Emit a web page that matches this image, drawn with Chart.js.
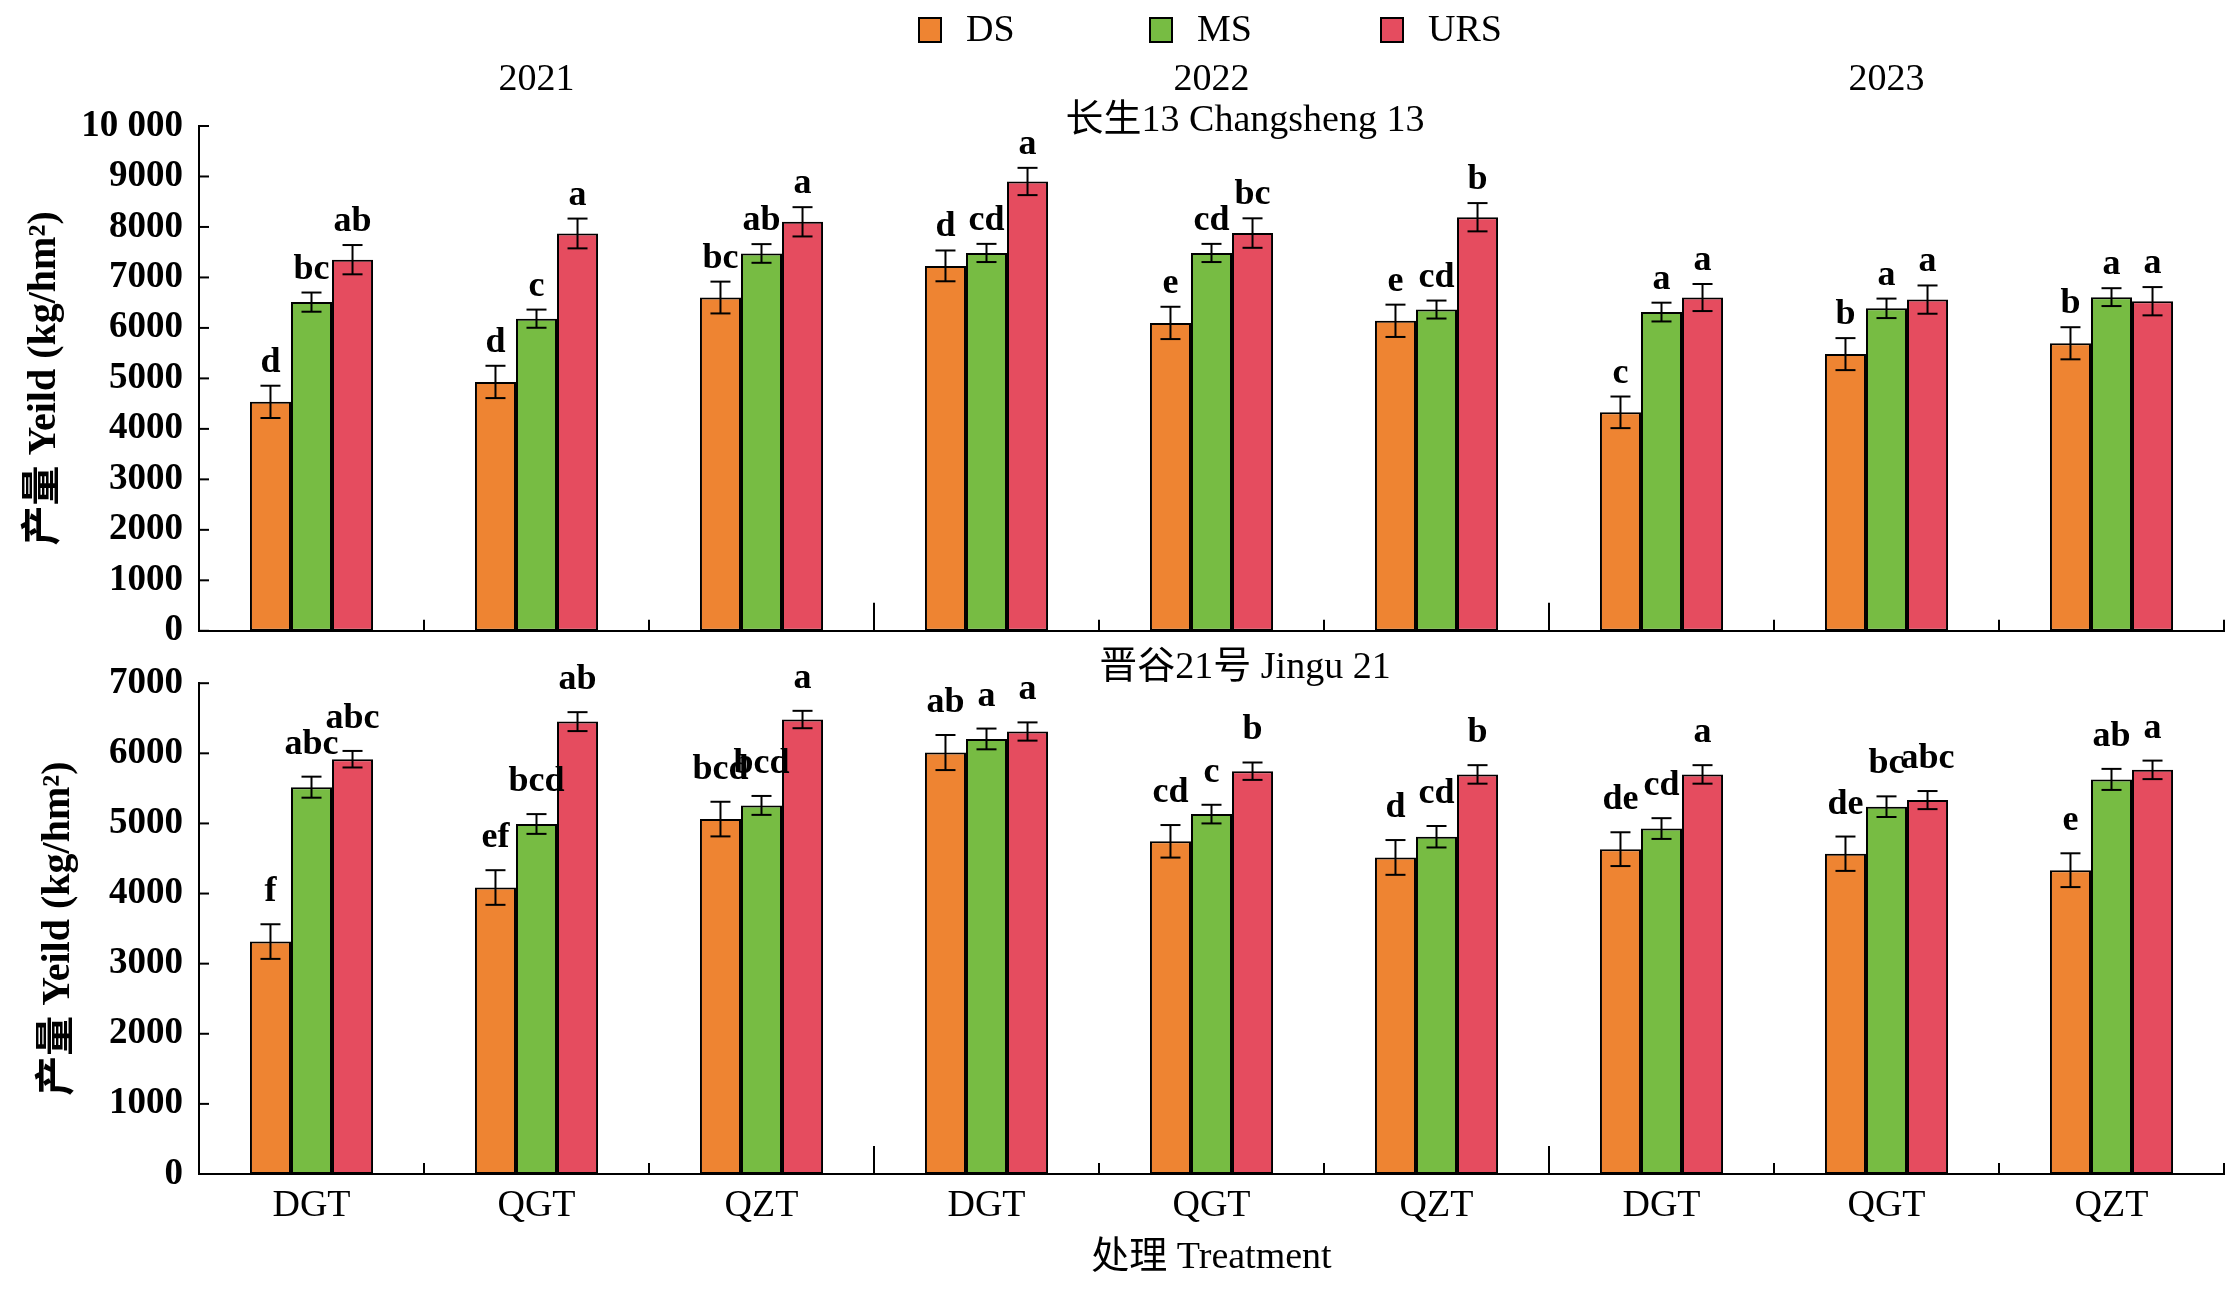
<!DOCTYPE html>
<html>
<head>
<meta charset="utf-8">
<script src="https://cdn.jsdelivr.net/npm/chart.js@4.4.1/dist/chart.umd.min.js"></script>
<style>
  body { margin: 0; background: #fff; }
  #wrap { position: relative; width: 2235px; height: 1294px; }
  canvas { position: absolute; left: 0; }
  #topChart { top: 0; }
  #bottomChart { top: 645px; }
</style>
</head>
<body>
<div id="wrap">
  <canvas id="topChart" width="2235" height="669"></canvas>
  <canvas id="bottomChart" width="2235" height="649"></canvas>
</div>
<script>
const years = ['2021', '2022', '2023'];
const treatments = ['DGT', 'QGT', 'QZT'];
const labels = years.flatMap(() => treatments);
const seriesNames = ['DS', 'MS', 'URS'];

// 长生13 Changsheng 13
const csDS = [4535, 4930, 6602, 7229, 6099, 6141, 4328, 5481, 5696];
const csMS = [6511, 6183, 7475, 7485, 7485, 6364, 6314, 6388, 6610];
const csURS = [7352, 7871, 8102, 8901, 7879, 8193, 6602, 6561, 6529];
const csDSErr = [320, 320, 315, 305, 320, 320, 313, 317, 318];
const csMSErr = [190, 180, 185, 180, 180, 178, 186, 193, 177];
const csURSErr = [290, 295, 290, 270, 292, 280, 268, 280, 280];
const csDSSig = ['d', 'd', 'bc', 'd', 'e', 'e', 'c', 'b', 'b'];
const csMSSig = ['bc', 'c', 'ab', 'cd', 'cd', 'cd', 'a', 'a', 'a'];
const csURSSig = ['ab', 'a', 'a', 'a', 'bc', 'b', 'a', 'a', 'a'];

// 晋谷21号 Jingu 21
const jgDS = [3315, 4086, 5062, 6011, 4745, 4515, 4633, 4568, 4333];
const jgMS = [5517, 4992, 5257, 6205, 5133, 4810, 4927, 5239, 5628];
const jgURS = [5916, 6452, 6482, 6311, 5745, 5699, 5699, 5333, 5764];
const jgDSErr = [247, 247, 247, 250, 232, 248, 241, 245, 241];
const jgMSErr = [150, 141, 135, 148, 133, 153, 148, 147, 150];
const jgURSErr = [118, 135, 124, 130, 124, 132, 132, 129, 132];
const jgDSSig = ['f', 'ef', 'bcd', 'ab', 'cd', 'd', 'de', 'de', 'e'];
const jgMSSig = ['abc', 'bcd', 'bcd', 'a', 'c', 'cd', 'cd', 'bc', 'ab'];
const jgURSSig = ['abc', 'ab', 'a', 'a', 'b', 'b', 'a', 'abc', 'a'];

const colors = ['#EE8432', '#77BC43', '#E54C5F'];
const SERIF = '"Liberation Serif", "Times New Roman", "Noto Sans CJK SC", serif';

function line(ctx, x1, y1, x2, y2) {
  ctx.beginPath();
  ctx.moveTo(x1, y1);
  ctx.lineTo(x2, y2);
  ctx.stroke();
}

// error bars, letters, inward ticks, group separators, titles
const decor = {
  id: 'decor',
  afterDatasetsDraw(chart, args, opts) {
    const ctx = chart.ctx;
    const xs = chart.scales.x, ys = chart.scales.y;
    const area = chart.chartArea;
    ctx.save();
    ctx.strokeStyle = '#000';
    ctx.fillStyle = '#000';
    ctx.lineWidth = 2;

    chart.data.datasets.forEach((ds, di) => {
      const meta = chart.getDatasetMeta(di);
      meta.data.forEach((bar, i) => {
        const v = ds.data[i], e = ds.errors[i];
        const yt = ys.getPixelForValue(v + e);
        const yb = ys.getPixelForValue(v - e);
        line(ctx, bar.x, yt, bar.x, yb);
        line(ctx, bar.x - 10, yt, bar.x + 10, yt);
        line(ctx, bar.x - 10, yb, bar.x + 10, yb);
        ctx.font = 'bold 36px ' + SERIF;
        ctx.textAlign = 'center';
        ctx.textBaseline = 'alphabetic';
        ctx.fillText(ds.letters[i], bar.x, yt - opts.gap);
      });
    });

    // y ticks pointing inward
    ys.ticks.forEach(t => {
      const py = ys.getPixelForValue(t.value);
      line(ctx, area.left, py, area.left + 10, py);
    });

    // separators between treatments, taller between years
    const n = labels.length;
    for (let i = 0; i < n; i++) {
      const px = i < n - 1 ? (xs.getPixelForTick(i) + xs.getPixelForTick(i + 1)) / 2 : area.right;
      const tall = i < n - 1 && (i + 1) % treatments.length === 0;
      line(ctx, px, area.bottom, px, area.bottom - (tall ? 28 : 11));
    }

    ctx.font = '38px ' + SERIF;
    ctx.textAlign = 'center';
    ctx.textBaseline = 'middle';
    ctx.fillText(opts.title, 1245, opts.titleY);

    if (opts.header) {
      // years over their groups
      years.forEach((yr, k) => {
        const a = xs.getPixelForTick(k * treatments.length);
        const b = xs.getPixelForTick(k * treatments.length + treatments.length - 1);
        ctx.fillText(yr, (a + b) / 2, 80);
      });
      // legend
      chart.data.datasets.forEach((ds, di) => {
        const lx = 919 + di * 231;
        ctx.fillStyle = ds.backgroundColor;
        ctx.fillRect(lx, 18, 22, 24);
        ctx.strokeRect(lx, 18, 22, 24);
        ctx.fillStyle = '#000';
        ctx.textAlign = 'left';
        ctx.fillText(ds.label, lx + 47, 31);
      });
    }
    ctx.restore();
  }
};

function makeDatasets(values, errs, sigs) {
  return seriesNames.map((name, k) => ({
    label: name,
    data: values[k],
    errors: errs[k],
    letters: sigs[k],
    backgroundColor: colors[k],
    borderColor: '#000',
    borderWidth: 2,
    borderSkipped: false,
    categoryPercentage: 0.547,
    barPercentage: 1
  }));
}

function makeChart(id, cfg) {
  return new Chart(document.getElementById(id), {
    type: 'bar',
    data: { labels: labels, datasets: makeDatasets(cfg.values, cfg.errs, cfg.sigs) },
    options: {
      responsive: false,
      animation: false,
      layout: { padding: cfg.padding },
      plugins: {
        legend: { display: false },
        tooltip: { enabled: false },
        decor: { title: cfg.title, titleY: cfg.titleY, gap: cfg.gap, header: cfg.header }
      },
      scales: {
        x: {
          grid: { display: false, drawTicks: false },
          border: { display: true, color: '#000', width: 2 },
          ticks: { display: cfg.showX, color: '#000', padding: 9, font: { family: SERIF, size: 38 } },
          title: {
            display: cfg.showX, text: '处理 Treatment', color: '#000',
            font: { family: SERIF, size: 38 }, padding: { top: 0, bottom: 13 }
          },
          afterFit: s => { s.height = cfg.xHeight; }
        },
        y: {
          min: 0, max: cfg.max,
          grid: { display: false, drawTicks: false },
          border: { display: true, color: '#000', width: 2 },
          ticks: {
            stepSize: 1000, color: '#000', padding: 16,
            font: { family: SERIF, size: 37, weight: 'bold' },
            callback: v => v === 10000 ? '10 000' : String(v)
          },
          title: {
            display: true, text: '产量 Yeild (kg/hm²)', color: '#000',
            font: { family: SERIF, size: 40, weight: 'bold' }, padding: { top: 0, bottom: 0 }
          },
          afterFit: s => { s.width = 199 - cfg.padding.left; }
        }
      }
    },
    plugins: [decor]
  });
}

makeChart('topChart', {
  values: [csDS, csMS, csURS], errs: [csDSErr, csMSErr, csURSErr], sigs: [csDSSig, csMSSig, csURSSig],
  max: 10000, padding: { left: 21, right: 11, top: 126, bottom: 0 }, xHeight: 31,
  showX: false, title: '长生13 Changsheng 13', titleY: 121, gap: 14, header: true
});

makeChart('bottomChart', {
  values: [jgDS, jgMS, jgURS], errs: [jgDSErr, jgMSErr, jgURSErr], sigs: [jgDSSig, jgMSSig, jgURSSig],
  max: 7000, padding: { left: 35, right: 11, top: 32, bottom: 0 }, xHeight: 120,
  showX: true, title: '晋谷21号 Jingu 21', titleY: 23, gap: 23, header: false
});
</script>
</body>
</html>
